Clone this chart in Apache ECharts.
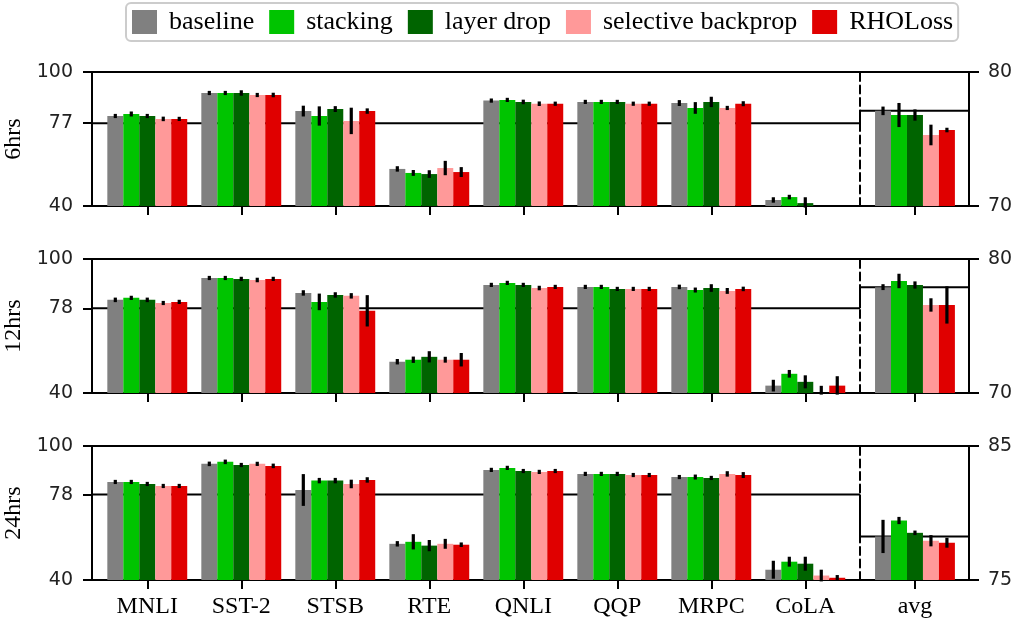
<!DOCTYPE html>
<html>
<head>
<meta charset="utf-8">
<script src="https://cdn.jsdelivr.net/npm/echarts@6/dist/echarts.min.js"></script>
<style>
html,body{margin:0;padding:0;background:#fff;}
#chart{width:1016px;height:621px;}
</style>
</head>
<body>
<div id="chart"></div>
<script>
// ---------------- data ----------------
const tasks = ['MNLI', 'SST-2', 'STSB', 'RTE', 'QNLI', 'QQP', 'MRPC', 'CoLA'];
const methods = ['baseline', 'stacking', 'layer drop', 'selective backprop', 'RHOLoss'];
const budgets = ['6hrs', '12hrs', '24hrs'];
const colors = ['#808080', '#00c400', '#006400', '#ff9999', '#e00000'];

// per budget: rows = methods, columns = tasks
const mean6hrs = [
  [80.3, 90.6, 82.5, 56.6, 87.2, 86.6, 86.1, 42.7],
  [81.2, 90.6, 80.3, 54.8, 87.5, 86.6, 83.9, 44.0],
  [80.3, 90.6, 83.4, 54.3, 86.6, 86.6, 86.6, 41.3],
  [79.0, 89.7, 78.1, 57.0, 85.8, 85.8, 83.9, 38.0],
  [79.0, 89.7, 82.5, 55.2, 85.8, 85.8, 85.8, 38.0]
];
const err6hrs = [
  [0.2, 0.2, 1.7, 0.5, 0.1, 0.1, 0.6, 0.5],
  [0.4, 0.1, 3.6, 0.6, 0.1, 0.1, 1.9, 0.3],
  [0.1, 0.5, 0.6, 1.0, 0.3, 0.1, 1.6, 1.9],
  [0.3, 0.1, 5.2, 2.5, 0.3, 0.2, 0.1, 0.0],
  [0.1, 0.3, 0.5, 1.5, 0.1, 0.1, 0.4, 0.0]
];
const mean12hrs = [
  [81.7, 91.5, 84.8, 54.0, 88.4, 87.5, 87.5, 43.3],
  [82.6, 91.5, 80.8, 54.9, 89.3, 87.5, 86.1, 48.6],
  [81.7, 91.1, 83.9, 56.2, 88.4, 86.6, 87.0, 45.0],
  [80.3, 90.6, 83.5, 54.9, 87.0, 86.6, 85.7, 39.5],
  [80.8, 91.1, 76.8, 54.9, 87.5, 86.6, 86.6, 43.3]
];
const err12hrs = [
  [0.3, 0.1, 0.5, 0.5, 0.1, 0.1, 0.3, 1.9],
  [0.2, 0.2, 3.0, 0.7, 0.2, 0.1, 0.4, 1.0],
  [0.3, 0.1, 0.5, 1.8, 0.2, 0.1, 1.0, 2.2],
  [0.2, 0.3, 0.5, 0.6, 0.3, 0.1, 0.6, 3.0],
  [0.1, 0.1, 6.3, 2.3, 0.2, 0.1, 0.3, 3.5]
];
const mean24hrs = [
  [83.9, 92.0, 80.3, 56.2, 89.3, 87.5, 86.1, 44.6],
  [83.9, 92.9, 84.5, 57.1, 90.2, 87.5, 86.1, 48.2],
  [83.0, 91.5, 84.5, 55.4, 88.8, 87.5, 85.7, 47.3],
  [82.1, 92.0, 83.0, 56.2, 88.4, 87.0, 87.5, 42.0],
  [82.1, 91.1, 84.8, 55.8, 88.8, 87.0, 87.0, 41.0]
];
const err24hrs = [
  [0.1, 0.3, 6.4, 0.5, 0.2, 0.1, 0.2, 3.3],
  [0.1, 0.3, 0.5, 2.7, 0.2, 0.1, 0.4, 1.5],
  [0.2, 0.1, 0.5, 1.8, 0.2, 0.1, 0.1, 2.4],
  [0.1, 0.2, 1.2, 1.5, 0.2, 0.1, 0.5, 1.9],
  [0.2, 0.3, 0.5, 0.3, 0.1, 0.1, 0.6, 0.5]
];
// average panel: one value per method
const avgMean6hrs = [77.1, 76.79, 76.79, 75.30, 75.67];
const avgErr6hrs = [0.2, 0.78, 0.3, 0.65, 0.05];
const avgMean12hrs = [77.9, 78.36, 78.06, 76.57, 76.57];
const avgErr12hrs = [0.1, 0.42, 0.15, 0.38, 1.27];
const avgMean24hrs = [78.25, 79.44, 78.52, 77.93, 77.78];
const avgErr24hrs = [1.12, 0.15, 0.05, 0.3, 0.25];

// axis ranges / ticks
const leftRange = [40, 100];
const rightRanges = [[70, 80], [70, 80], [75, 85]];
const refLine = [77.1, 77.9, 78.25]; // baseline average, drawn across both panels

// ---------------- layout ----------------
const means = [mean6hrs, mean12hrs, mean24hrs];
const errs = [err6hrs, err12hrs, err24hrs];
const avgMeans = [avgMean6hrs, avgMean12hrs, avgMean24hrs];
const avgErrs = [avgErr6hrs, avgErr12hrs, avgErr24hrs];

const rowTop = [72, 259, 446];
const rowH = 134;
const leftX = 92, leftW = 768, rightW = 109;
const xLeftMin = -0.588, xLeftMax = 7.582;
const xRightMin = -0.585, xRightMax = 0.575;
const barW = 0.17;

const SERIF = '"Liberation Serif", "DejaVu Serif", serif';
const SANS = '"DejaVu Sans", sans-serif';
const AX = { color: '#000', width: 2 };

const grids = [], xAxes = [], yAxes = [], series = [];

function barRenderer(mi, color) {
  const off = (mi - 2) * barW;
  return function (params, api) {
    const cs = params.coordSys;
    const xc = api.value(0) + off;
    const v = api.value(1), e = api.value(2);
    const p0 = api.coord([xc - barW / 2, v]);
    const p1 = api.coord([xc + barW / 2, v]);
    const bottomY = cs.y + cs.height;
    const children = [];
    if (p0[1] < bottomY) {
      const ty = Math.max(p0[1], cs.y);
      children.push({ type: 'rect', shape: { x: p0[0], y: ty, width: p1[0] - p0[0], height: bottomY - ty }, style: { fill: color } });
    }
    const a = api.coord([xc, v + e]), b = api.coord([xc, v - e]);
    let y1 = a[1], y2 = b[1];
    if (y2 - y1 < 1) { const m = (y1 + y2) / 2; y1 = m - 0.5; y2 = m + 0.5; }
    y1 = Math.max(y1, cs.y); y2 = Math.min(y2, bottomY);
    if (y2 > y1) {
      children.push({ type: 'line', shape: { x1: a[0], y1: y1, x2: a[0], y2: y2 }, style: { stroke: '#000', lineWidth: 3.2, lineCap: 'square' }, z2: 10 });
    }
    return { type: 'group', children: children };
  };
}

for (let r = 0; r < 3; r++) {
  const last = r === 2;
  grids.push({ left: leftX, top: rowTop[r], width: leftW, height: rowH, outerBoundsMode: 'none' });
  grids.push({ left: leftX + leftW, top: rowTop[r], width: rightW, height: rowH, outerBoundsMode: 'none' });
  const gL = 2 * r, gR = 2 * r + 1;

  const xBL = xAxes.length;
  xAxes.push({
    type: 'value', gridIndex: gL, position: 'bottom', min: xLeftMin, max: xLeftMax,
    axisLine: { show: true, onZero: false, lineStyle: AX },
    axisTick: { show: true, length: 9, lineStyle: AX, customValues: tasks.map((t, i) => i) },
    axisLabel: { show: last, customValues: tasks.map((t, i) => i), formatter: v => tasks[Math.round(v)],
      fontFamily: SERIF, fontSize: 24, color: '#000', margin: 15 },
    splitLine: { show: false }
  });
  xAxes.push({
    type: 'value', gridIndex: gL, position: 'top', min: xLeftMin, max: xLeftMax,
    axisLine: { show: true, onZero: false, lineStyle: AX }, axisTick: { show: false }, axisLabel: { show: false }, splitLine: { show: false }
  });
  const xBR = xAxes.length;
  xAxes.push({
    type: 'value', gridIndex: gR, position: 'bottom', min: xRightMin, max: xRightMax,
    axisLine: { show: true, onZero: false, lineStyle: AX },
    axisTick: { show: true, length: 9, lineStyle: AX, customValues: [0] },
    axisLabel: { show: last, customValues: [0], formatter: () => 'avg',
      fontFamily: SERIF, fontSize: 24, color: '#000', margin: 15 },
    splitLine: { show: false }
  });
  xAxes.push({
    type: 'value', gridIndex: gR, position: 'top', min: xRightMin, max: xRightMax,
    axisLine: { show: true, onZero: false, lineStyle: AX }, axisTick: { show: false }, axisLabel: { show: false }, splitLine: { show: false }
  });

  const ticksL = [leftRange[0], refLine[r], leftRange[1]];
  const yL = yAxes.length;
  yAxes.push({
    type: 'value', gridIndex: gL, position: 'left', min: leftRange[0], max: leftRange[1],
    name: budgets[r], nameLocation: 'middle', nameGap: 49,
    nameTextStyle: { fontFamily: SERIF, fontSize: 24, color: '#000' },
    axisLine: { show: true, onZero: false, lineStyle: AX },
    axisTick: { show: true, length: 9, lineStyle: AX, customValues: ticksL },
    axisLabel: { customValues: ticksL, formatter: v => String(Math.round(v)), fontFamily: SANS, fontSize: 19, color: '#222', margin: 19 },
    splitLine: { show: false }
  });
  yAxes.push({
    type: 'value', gridIndex: gL, position: 'right', min: leftRange[0], max: leftRange[1],
    axisLine: { show: true, onZero: false, lineStyle: { color: '#000', width: 2, type: [8, 4.5] } },
    axisTick: { show: false }, axisLabel: { show: false }, splitLine: { show: false }
  });
  const rr = rightRanges[r];
  const yR = yAxes.length;
  yAxes.push({
    type: 'value', gridIndex: gR, position: 'right', min: rr[0], max: rr[1], interval: rr[1] - rr[0],
    axisLine: { show: true, onZero: false, lineStyle: AX },
    axisTick: { show: true, length: 10, lineStyle: AX },
    axisLabel: { fontFamily: SANS, fontSize: 19, color: '#222', margin: 19 },
    splitLine: { show: false }
  });

  const leftEquiv = rr[0] + (refLine[r] - leftRange[0]) / (leftRange[1] - leftRange[0]) * (rr[1] - rr[0]);
  series.push({
    type: 'line', xAxisIndex: xBL, yAxisIndex: yL, z: 1, symbol: 'none', silent: true,
    lineStyle: { color: '#000', width: 2 }, data: [[xLeftMin, refLine[r]], [xLeftMax, refLine[r]]]
  });
  series.push({
    type: 'line', xAxisIndex: xBR, yAxisIndex: yR, z: 1, symbol: 'none', silent: true,
    lineStyle: { color: '#000', width: 2 }, data: [[xRightMin, leftEquiv], [xRightMin, refLine[r]], [xRightMax, refLine[r]]]
  });

  for (let m = 0; m < methods.length; m++) {
    series.push({
      type: 'custom', name: methods[m], xAxisIndex: xBL, yAxisIndex: yL, z: 3,
      itemStyle: { color: colors[m] },
      renderItem: barRenderer(m, colors[m]),
      encode: { x: 0, y: 1 },
      data: tasks.map((t, i) => [i, means[r][m][i], errs[r][m][i]])
    });
    series.push({
      type: 'custom', name: methods[m], xAxisIndex: xBR, yAxisIndex: yR, z: 3,
      itemStyle: { color: colors[m] },
      renderItem: barRenderer(m, colors[m]),
      encode: { x: 0, y: 1 },
      data: [[0, avgMeans[r][m], avgErrs[r][m]]]
    });
  }
}

const chart = echarts.init(document.getElementById('chart'), null, { renderer: 'canvas' });
chart.setOption({
  animation: false,
  backgroundColor: '#fff',
  legend: {
    data: methods.map((n, i) => ({ name: n, icon: 'rect', itemStyle: { color: colors[i] } })),
    left: 126, top: 3,
    itemWidth: 25, itemHeight: 24, itemGap: 15,
    padding: [6, 5, 6, 6],
    borderColor: '#cccccc', borderWidth: 2, borderRadius: 5, backgroundColor: '#fff',
    textStyle: { fontFamily: SERIF, fontSize: 26, color: '#000', padding: [0, 0, 0, 7] },
    selectedMode: false
  },
  grid: grids,
  xAxis: xAxes,
  yAxis: yAxes,
  series: series
});
</script>
</body>
</html>
